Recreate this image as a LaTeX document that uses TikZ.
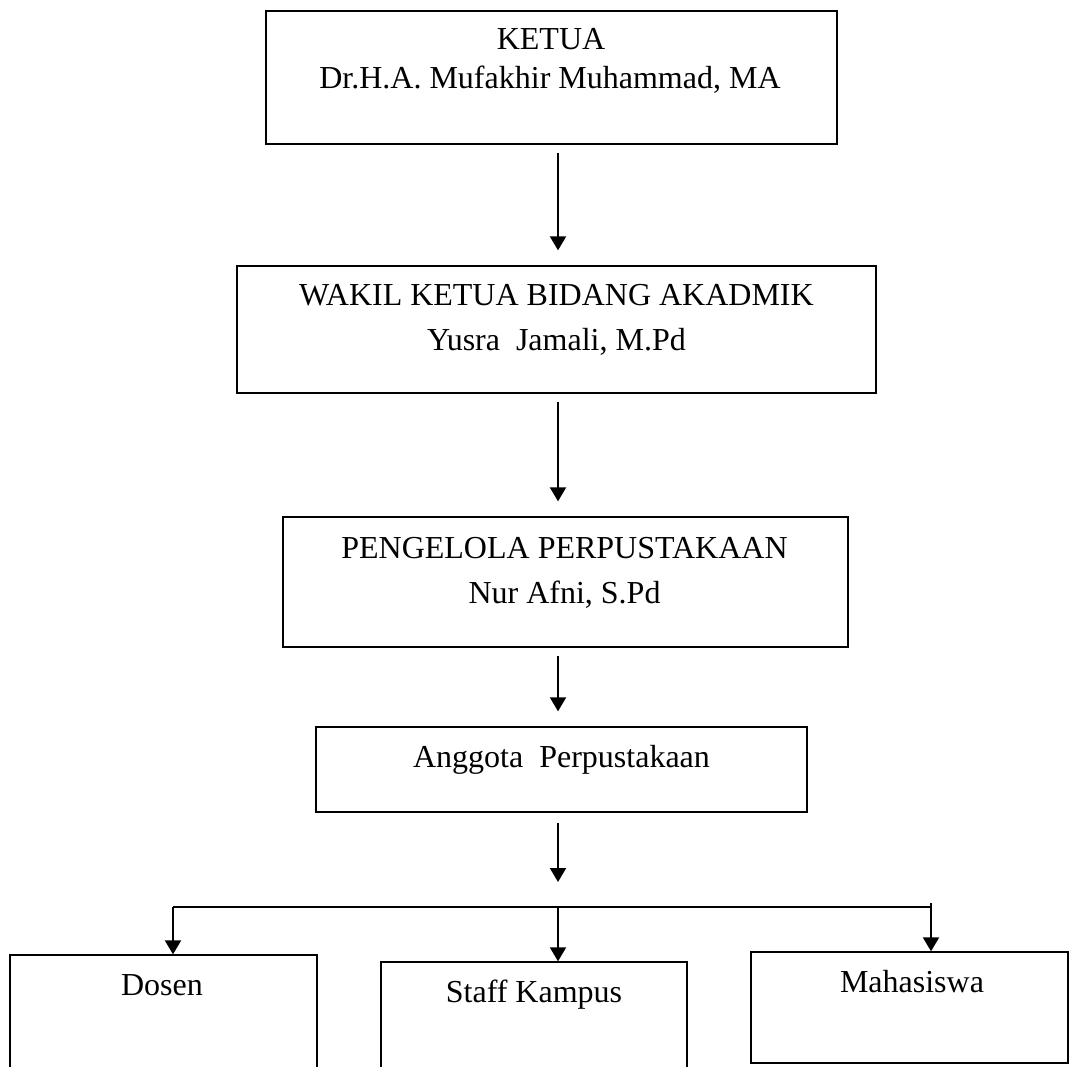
\documentclass[tikz,border=0pt]{standalone}
\usepackage{fontspec}
\setmainfont{Liberation Serif}
\usetikzlibrary{arrows.meta}
\begin{document}
\begin{tikzpicture}[x=0.75pt,y=-0.75pt,
  box/.style={draw,line width=1pt,inner sep=0pt,fill=none},
  txt/.style={inner sep=0pt,anchor=base,font=\fontsize{24}{28.8}\selectfont},
  arr/.style={line width=1.5pt,-{Triangle[width=12pt,length=10.5pt]}},
  busline/.style={line width=1.7pt}]
\clip (0,0) rectangle (1069,1066);
\fill[white] (0,0) rectangle (1069,1066);
% boxes
\node[box,minimum width=428.25pt,minimum height=99.75pt] (ketua) at (551.5,77.5) {};
\node[box,minimum width=479.25pt,minimum height=95.25pt] (wakil) at (556.5,329.5) {};
\node[box,minimum width=423.75pt,minimum height=97.5pt] (pengelola) at (565.5,582) {};
\node[box,minimum width=368.25pt,minimum height=63.75pt] (anggota) at (561.5,769.5) {};
\node[box,minimum width=230.25pt,minimum height=93.75pt] (dosen) at (163.5,1017.5) {};
\node[box,minimum width=229.5pt,minimum height=88.5pt] (staff) at (534,1021) {};
\node[box,minimum width=237.75pt,minimum height=83.25pt] (maha) at (909.5,1007.5) {};
% texts
\node[txt] (t1) at (551,50) {KETUA};
\node[txt] (t2) at (550,89) {Dr.H.A. Mufakhir Muhammad, MA};
\node[txt] (t3) at (556.5,305) {WAKIL KETUA BIDANG AKADMIK};
\node[txt] (t4) at (556.5,350) {Yusra\ \ Jamali, M.Pd};
\node[txt] (t5) at (564.5,558) {PENGELOLA PERPUSTAKAAN};
\node[txt] (t6) at (564.5,603) {Nur Afni, S.Pd};
\node[txt] (t7) at (561.5,767) {Anggota\ \ Perpustakaan};
\node[txt] (t8) at (162,995) {Dosen};
\node[txt] (t9) at (534,1002) {Staff Kampus};
\node[txt] (t10) at (912,992) {Mahasiswa};
% axis and bus
\coordinate (ax) at (558,0);
\coordinate (bus) at (558,907);
\coordinate (dk) at (173,907);
\coordinate (mk) at (931,907);
\coordinate (mtop) at (931,903);
% connectors
\draw[arr] ([yshift=-6pt]ketua.south -| ax) -- ([yshift=11.25pt]wakil.north -| ax);
\draw[arr] ([yshift=-6pt]wakil.south -| ax) -- ([yshift=11.25pt]pengelola.north -| ax);
\draw[arr] ([yshift=-6pt]pengelola.south -| ax) -- ([yshift=11.25pt]anggota.north -| ax);
\draw[arr] ([yshift=-7.5pt]anggota.south -| ax) -- ([yshift=18.75pt]bus);
\draw[busline] (dk) -- (mk);
\draw[arr] (dk) -- (dk |- dosen.north);
\draw[arr] (bus) -- (bus |- staff.north);
\draw[arr] (mtop) -- (mtop |- maha.north);
\end{tikzpicture}
\end{document}
